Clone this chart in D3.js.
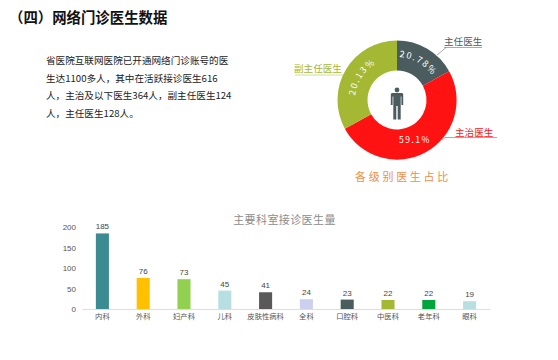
<!DOCTYPE html>
<html>
<head>
<meta charset="utf-8">
<script src="https://d3js.org/d3.v7.min.js"></script>
<style>
    html, body { margin: 0; padding: 0; background: #fff; }
    svg { display: block; }
    text { font-family: "Noto Sans CJK SC", "Noto Sans", sans-serif; }
</style>
</head>
<body>
<div id="chart"></div>
<script>
const introLines = [
    '省医院互联网医院已开通网络门诊账号的医',
    '生达1100多人，其中在活跃接诊医生616',
    '人，主治及以下医生364人，副主任医生124',
    '人，主任医生128人。'
];
const levelNames = ['主任医生', '主治医生', '副主任医生'];
const levelLabels = ['20.78%', '59.1%', '20.13%'];
// slice sizes as drawn in the picture, they do not follow the printed labels
const levelShares = [17, 50, 33];
const levelColors = ['#4a5c5e', '#fe1212', '#a4b833'];

const departments = ['内科', '外科', '妇产科', '儿科', '皮肤性病科', '全科', '口腔科', '中医科', '老年科', '眼科'];
const doctorCounts = [185, 76, 73, 45, 41, 24, 23, 22, 22, 19];
const barColors = ['#3b8c92', '#ffc000', '#92d050', '#b7dfe2', '#595959', '#ccd0ee', '#4a5c5e', '#a4b833', '#00a63c', '#b7dfe2'];
const yTicks = [0, 50, 100, 150, 200];

const width = 558, height = 360;
const svg = d3.select('#chart').append('svg')
    .attr('width', width)
    .attr('height', height);

// heading and paragraph
svg.append('text')
    .attr('x', 9).attr('y', 23)
    .attr('font-size', 14.4).attr('font-weight', 700).attr('fill', '#111')
    .text('（四）网络门诊医生数据');

svg.append('g').selectAll('text')
    .data(introLines)
    .join('text')
    .attr('x', 46)
    .attr('y', (d, i) => 64 + i * 17.7)
    .attr('font-size', 9.6)
    .attr('fill', '#222')
    .text(d => d);

// donut
const cx = 397, cy = 100, rOuter = 59.5, rInner = 29.5;
const donut = svg.append('g').attr('transform', `translate(${cx},${cy})`);
const pie = d3.pie().sort(null)(levelShares);
const arc = d3.arc().innerRadius(rInner).outerRadius(rOuter);

donut.selectAll('path.slice')
    .data(pie)
    .join('path')
    .attr('class', 'slice')
    .attr('d', arc)
    .attr('fill', (d, i) => levelColors[i]);

// curved labels on grey and olive slices
const labelPath = (id, a0, a1, r) => {
    const p = d3.path();
    p.arc(0, 0, r, a0 - Math.PI / 2, a1 - Math.PI / 2);
    donut.append('path').attr('id', id).attr('d', p.toString()).attr('fill', 'none');
};
const rad = d => d * Math.PI / 180;
labelPath('lab0', rad(3), rad(60), 43);
labelPath('lab2', rad(276), rad(359), 42);

const ringLabel = (id, txt) => donut.append('text')
    .attr('font-size', 9).attr('fill', '#fff').attr('letter-spacing', 1.5)
    .attr('font-family', '"DejaVu Sans", sans-serif')
    .append('textPath').attr('href', '#' + id).text(txt);
ringLabel('lab0', levelLabels[0]);
ringLabel('lab2', levelLabels[2]);

svg.append('text')
    .attr('x', 415).attr('y', 143)
    .attr('text-anchor', 'middle')
    .attr('font-size', 8.5).attr('fill', '#fff').attr('letter-spacing', 1.5)
    .attr('font-family', '"DejaVu Sans", sans-serif')
    .text(levelLabels[1]);

// person icon
const icon = svg.append('g').attr('fill', '#4a5c5e').attr('transform', `translate(${cx},${cy})`);
icon.append('circle').attr('cx', 0).attr('cy', -10).attr('r', 2.4);
icon.append('path').attr('d', 'M-5,-7 H5 Q6.2,-7 6.2,-5.5 V5 H4.4 V-3.5 H3.7 V19.5 H0.7 V6 H-0.7 V19.5 H-3.7 V-3.5 H-4.4 V5 H-6.2 V-5.5 Q-6.2,-7 -5,-7 Z');

// callouts
const callouts = [
    { i: 0, x: 444, y: 45, ux: 444, uw: 38, lx: 446, ly: 47.5, lx2: 437, ly2: 55, color: '#4a5c5e' },
    { i: 1, x: 455, y: 136, ux: 445, uw: 52, lx: 445, ly: 137.5, lx2: 442, ly2: 140, color: '#fe1212' },
    { i: 2, x: 294, y: 72, ux: 295, uw: 50, lx: 344, ly: 75, lx2: 345, ly2: 75, color: '#a4b833' }
];
callouts.forEach(c => {
    svg.append('text')
        .attr('x', c.x).attr('y', c.y)
        .attr('font-size', 9.6).attr('fill', c.color)
        .text(levelNames[c.i]);
    svg.append('line')
        .attr('x1', c.ux).attr('x2', c.ux + c.uw)
        .attr('y1', c.ly).attr('y2', c.ly)
        .attr('stroke', c.color).attr('stroke-opacity', 0.5);
    svg.append('line')
        .attr('x1', c.lx).attr('y1', c.ly)
        .attr('x2', c.lx2).attr('y2', c.ly2)
        .attr('stroke', c.color).attr('stroke-opacity', 0.5);
});

svg.append('text')
    .attr('x', 403).attr('y', 181)
    .attr('text-anchor', 'middle')
    .attr('font-size', 11).attr('letter-spacing', 2.7).attr('fill', '#ee8e4a')
    .text('各级别医生占比');

// bar chart
const x = d3.scaleBand().domain(departments).range([82, 490]).paddingInner(0.68).paddingOuter(0.34);
const y = d3.scaleLinear().domain([0, 200]).range([309, 227.3]);

svg.append('text')
    .attr('x', 284.5).attr('y', 224)
    .attr('text-anchor', 'middle')
    .attr('font-size', 11).attr('letter-spacing', 0.4).attr('fill', '#8c8c8c')
    .text('主要科室接诊医生量');

svg.append('g').selectAll('rect')
    .data(doctorCounts)
    .join('rect')
    .attr('x', (d, i) => x(departments[i]))
    .attr('y', d => y(d))
    .attr('width', x.bandwidth())
    .attr('height', d => y(0) - y(d))
    .attr('fill', (d, i) => barColors[i]);

svg.append('g').selectAll('text')
    .data(doctorCounts)
    .join('text')
    .attr('x', (d, i) => x(departments[i]) + x.bandwidth() / 2)
    .attr('y', d => y(d) - 4)
    .attr('text-anchor', 'middle')
    .attr('font-size', 8).attr('fill', '#444')
    .style('font-family', '"Liberation Sans", sans-serif')
    .text(d => d);

const xAxis = svg.append('g')
    .attr('transform', `translate(0,${y(0)})`)
    .call(d3.axisBottom(x).tickSize(0).tickPadding(5));
xAxis.select('.domain').attr('stroke', '#ddd');
xAxis.selectAll('text').attr('font-size', 7.3).attr('fill', '#555')
    .style('font-family', '"Noto Sans CJK SC", sans-serif');

const yAxis = svg.append('g')
    .attr('transform', 'translate(76,0)')
    .call(d3.axisLeft(y).tickValues(yTicks).tickSize(0).tickPadding(0));
yAxis.select('.domain').remove();
yAxis.selectAll('text').attr('font-size', 8).attr('fill', '#555')
    .style('font-family', '"Liberation Sans", sans-serif');
</script>
</body>
</html>
